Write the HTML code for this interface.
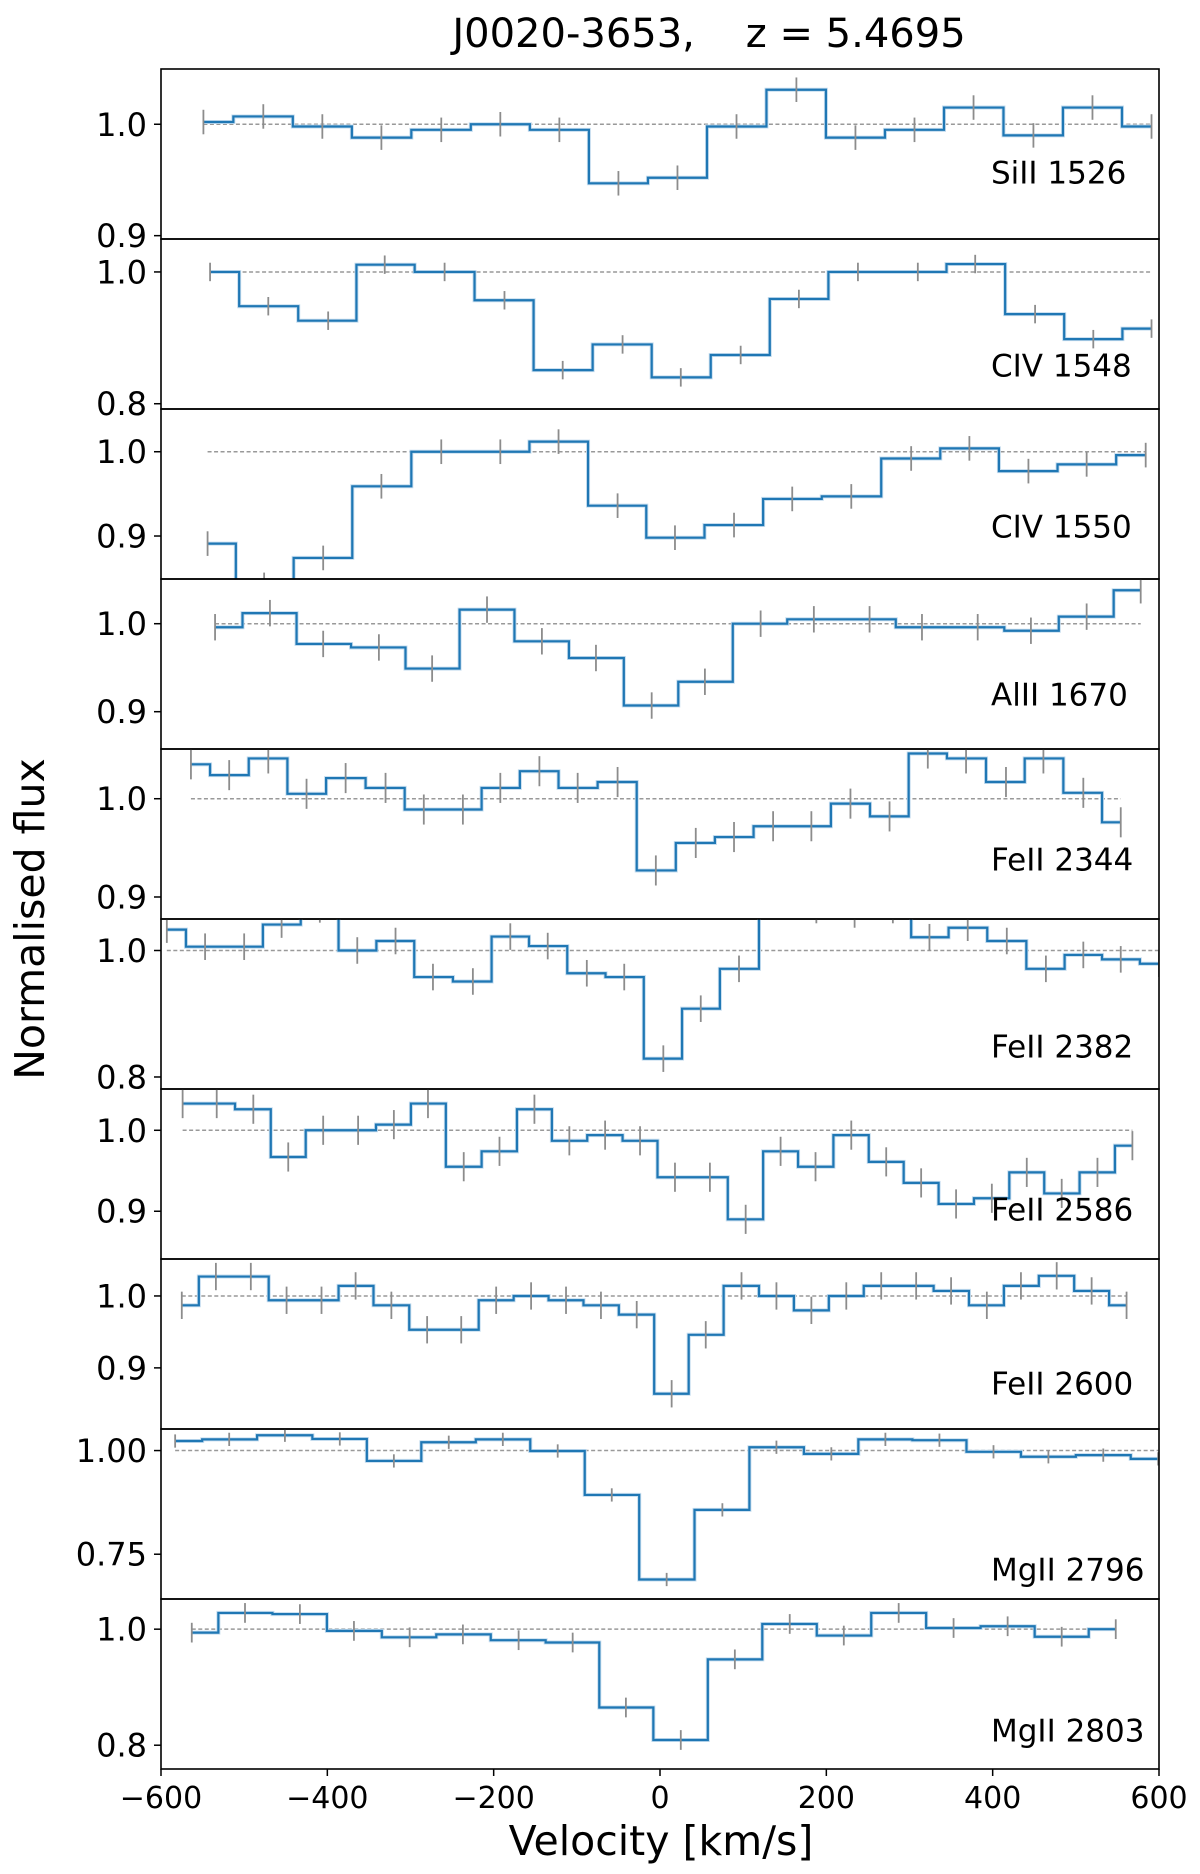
<!DOCTYPE html>
<html><head><meta charset="utf-8">
<style>
html,body{margin:0;padding:0;background:#fff;}
svg{display:block;font-family:"DejaVu Sans","Liberation Sans",sans-serif;}
</style></head>
<body>
<svg id="chart" width="1200" height="1874" viewBox="0 0 1200 1874" xmlns="http://www.w3.org/2000/svg">
<rect x="0" y="0" width="1200" height="1874" fill="#fff"/>
<text x="709" y="47" font-size="40" text-anchor="middle">J0020-3653,&#160;&#160;&#160;&#160;z = 5.4695</text>
<text transform="translate(44,919) rotate(-90)" font-size="41" text-anchor="middle">Normalised flux</text>
<text x="661" y="1855" font-size="41" text-anchor="middle">Velocity [km/s]</text>
<g id="panels"></g>
</svg>
<script>
const xTicks = [-600, -400, -200, 0, 200, 400, 600];
const xTickLabels = ["\u2212600", "\u2212400", "\u2212200", "0", "200", "400", "600"];

const siiiVel = [-549,-477,-406,-335,-263,-192,-121,-50,21,92,164,235,306,377,449,520,591];
const siiiFlux = [1.002,1.007,0.998,0.988,0.995,1.0,0.995,0.947,0.952,0.998,1.031,0.988,0.995,1.015,0.990,1.015,0.998];

const civ1548Vel = [-541,-471,-399,-331,-259,-187,-117,-45,25,97,167,238,310,379,451,521,591];
const civ1548Flux = [1.0,0.948,0.926,1.011,1.0,0.957,0.851,0.890,0.840,0.874,0.959,1.0,1.0,1.012,0.936,0.898,0.914];

const civ1550Vel = [-544,-476,-405,-335,-263,-192,-122,-51,18,89,159,230,302,372,443,513,584];
const civ1550Flux = [0.891,0.842,0.874,0.959,1.0,1.0,1.012,0.936,0.898,0.913,0.944,0.947,0.992,1.004,0.977,0.985,0.996];

const aliiVel = [-535,-469,-405,-338,-274,-208,-142,-77,-10,54,121,185,252,315,382,446,513,578];
const aliiFlux = [0.996,1.012,0.977,0.973,0.949,1.016,0.980,0.961,0.907,0.934,1.0,1.005,1.005,0.996,0.996,0.992,1.008,1.038];

const fe2344Vel = [-564,-518,-471,-425,-378,-330,-284,-237,-192,-145,-99,-51,-5,43,89,136,182,229,276,322,368,416,461,509,554];
const fe2344Flux = [1.035,1.024,1.041,1.005,1.021,1.011,0.989,0.989,1.011,1.028,1.011,1.017,0.927,0.955,0.961,0.972,0.972,0.995,0.982,1.046,1.041,1.017,1.041,1.006,0.976];

const fe2382Vel = [-593,-547,-500,-455,-409,-364,-318,-273,-225,-180,-135,-88,-43,4,49,95,143,188,234,280,324,370,417,464,509,554,600];
const fe2382Flux = [1.033,1.006,1.006,1.041,1.065,1.0,1.015,0.958,0.951,1.022,1.007,0.964,0.958,0.829,0.908,0.971,1.07,1.064,1.057,1.064,1.021,1.036,1.015,0.971,0.993,0.986,0.979];

const fe2586Vel = [-574,-533,-489,-447,-405,-363,-320,-279,-236,-193,-151,-109,-66,-24,18,60,103,145,187,230,272,314,356,399,441,483,526,568];
const fe2586Flux = [1.033,1.033,1.026,0.967,1.0,1.0,1.007,1.033,0.955,0.974,1.026,0.987,0.994,0.987,0.942,0.942,0.890,0.974,0.955,0.994,0.961,0.935,0.909,0.916,0.948,0.922,0.948,0.981];

const fe2600Vel = [-575,-534,-492,-449,-407,-366,-323,-280,-239,-197,-155,-113,-71,-28,14,55,98,140,182,224,266,308,350,393,434,477,519,561];
const fe2600Flux = [0.987,1.027,1.027,0.994,0.994,1.014,0.987,0.953,0.953,0.994,1.0,0.994,0.987,0.974,0.864,0.946,1.014,1.0,0.980,1.0,1.014,1.014,1.007,0.987,1.014,1.028,1.007,0.987];

const mg2796Vel = [-583,-518,-451,-385,-320,-254,-189,-123,-58,8,75,140,206,271,336,401,467,533,599];
const mg2796Flux = [1.023,1.027,1.037,1.028,0.975,1.020,1.027,0.999,0.893,0.689,0.857,1.008,0.992,1.027,1.025,0.997,0.985,0.989,0.980];

const mg2803Vel = [-563,-499,-433,-368,-301,-237,-170,-105,-41,25,90,156,221,287,353,418,483,548];
const mg2803Flux = [0.994,1.028,1.026,0.997,0.986,0.991,0.981,0.977,0.865,0.809,0.948,1.009,0.989,1.028,1.002,1.005,0.987,1.0];

const panelLabels = ["SiII 1526","CIV 1548","CIV 1550","AlII 1670","FeII 2344","FeII 2382","FeII 2586","FeII 2600","MgII 2796","MgII 2803"];
const panelVels = [siiiVel,civ1548Vel,civ1550Vel,aliiVel,fe2344Vel,fe2382Vel,fe2586Vel,fe2600Vel,mg2796Vel,mg2803Vel];
const panelFluxes = [siiiFlux,civ1548Flux,civ1550Flux,aliiFlux,fe2344Flux,fe2382Flux,fe2586Flux,fe2600Flux,mg2796Flux,mg2803Flux];
const panelErrors = [0.011,0.014,0.0146,0.015,0.0153,0.021,0.018,0.019,0.016,0.017];
const panelYMin = [0.897,0.792,0.849,0.8576,0.8776,0.781,0.841,0.815,0.642,0.759];
const panelYMax = [1.0496,1.050,1.0507,1.0508,1.0506,1.0498,1.051,1.0514,1.052,1.052];
const panelYTicks = [[0.9,1.0],[0.8,1.0],[0.9,1.0],[0.9,1.0],[0.9,1.0],[0.8,1.0],[0.9,1.0],[0.9,1.0],[0.75,1.0],[0.8,1.0]];
const panelYTickLabels = [["0.9","1.0"],["0.8","1.0"],["0.9","1.0"],["0.9","1.0"],["0.9","1.0"],["0.8","1.0"],["0.9","1.0"],["0.9","1.0"],["0.75","1.00"],["0.8","1.0"]];

const NS = "http://www.w3.org/2000/svg";
const LEFT = 161, RIGHT = 1159, TOP0 = 69, PH = 170;
const xScale = v => LEFT + (v + 600) / 1200 * (RIGHT - LEFT);
function mk(tag, attrs, parent) {
  const e = document.createElementNS(NS, tag);
  for (const k in attrs) e.setAttribute(k, attrs[k]);
  parent.appendChild(e);
  return e;
}
const root = document.getElementById('panels');
const defs = mk('defs', {}, root);

for (let p = 0; p < panelLabels.length; p++) {
  const top = TOP0 + p * PH, bot = top + PH;
  const y0 = panelYMin[p], y1 = panelYMax[p];
  const yScale = f => bot - (f - y0) / (y1 - y0) * PH;
  const vel = panelVels[p], flux = panelFluxes[p], err = panelErrors[p];
  const g = mk('g', {}, root);
  
  

  const cp = mk('clipPath', {id: 'clip' + p}, defs);
  mk('rect', {x: LEFT, y: top, width: RIGHT - LEFT, height: PH}, cp);
  const plot = mk('g', {'clip-path': 'url(#clip' + p + ')'}, g);

  const dl = mk('line', {x1: xScale(vel[0]), x2: xScale(vel[vel.length-1]), y1: yScale(1), y2: yScale(1), stroke: '#999', 'stroke-width': 1.5, 'stroke-dasharray': '4,2.5'}, plot);
  
  

  let d = 'M' + xScale(vel[0]) + ',' + yScale(flux[0]);
  for (let i = 1; i < vel.length; i++) {
    const m = xScale((vel[i-1] + vel[i]) / 2);
    d += ' H' + m + ' V' + yScale(flux[i]);
  }
  d += ' H' + xScale(vel[vel.length-1]);
  const sh = mk('path', {d: d, fill: 'none', stroke: '#c6ddef', 'stroke-width': 4, 'stroke-linejoin': 'miter'}, plot);
  
  
  const sp = mk('path', {d: d, fill: 'none', stroke: '#1f77b4', 'stroke-width': 2.2, 'stroke-linejoin': 'miter'}, plot);
  
  

  for (let i = 0; i < vel.length; i++) {
    const eb = mk('line', {x1: xScale(vel[i]), x2: xScale(vel[i]), y1: yScale(flux[i] - err), y2: yScale(flux[i] + err), stroke: '#8c8c8c', 'stroke-width': 1.8}, plot);
    
    
  }

  const fr = mk('rect', {x: LEFT, y: top, width: RIGHT - LEFT, height: PH, fill: 'none', stroke: '#000', 'stroke-width': 1.6}, g);
  
  

  const yt = panelYTicks[p], ytl = panelYTickLabels[p];
  for (let k = 0; k < yt.length; k++) {
    const y = yScale(yt[k]);
    const tm = mk('line', {x1: LEFT - 7, x2: LEFT, y1: y, y2: y, stroke: '#000', 'stroke-width': 1.5}, g);
    
    
    const tl = mk('text', {x: LEFT - 14, y: y + 11.5, 'font-size': 32, 'text-anchor': 'end'}, g);
    tl.textContent = ytl[k];
    
    
  }

  const lb = mk('text', {x: 991, y: top + [103,126,117,115,110,127,120,124,140,131][p] + 11.5, 'font-size': 31}, g);
  lb.textContent = panelLabels[p];
  
  

  if (p === panelLabels.length - 1) {
    for (let k = 0; k < xTicks.length; k++) {
      const x = xScale(xTicks[k]);
      const tm = mk('line', {x1: x, x2: x, y1: bot, y2: bot + 7, stroke: '#000', 'stroke-width': 1.5}, g);
      
      
      const tl = mk('text', {x: x, y: bot + 39, 'font-size': 30, 'text-anchor': 'middle'}, g);
      tl.textContent = xTickLabels[k];
      
      
    }
  }
}
</script>
</body></html>
